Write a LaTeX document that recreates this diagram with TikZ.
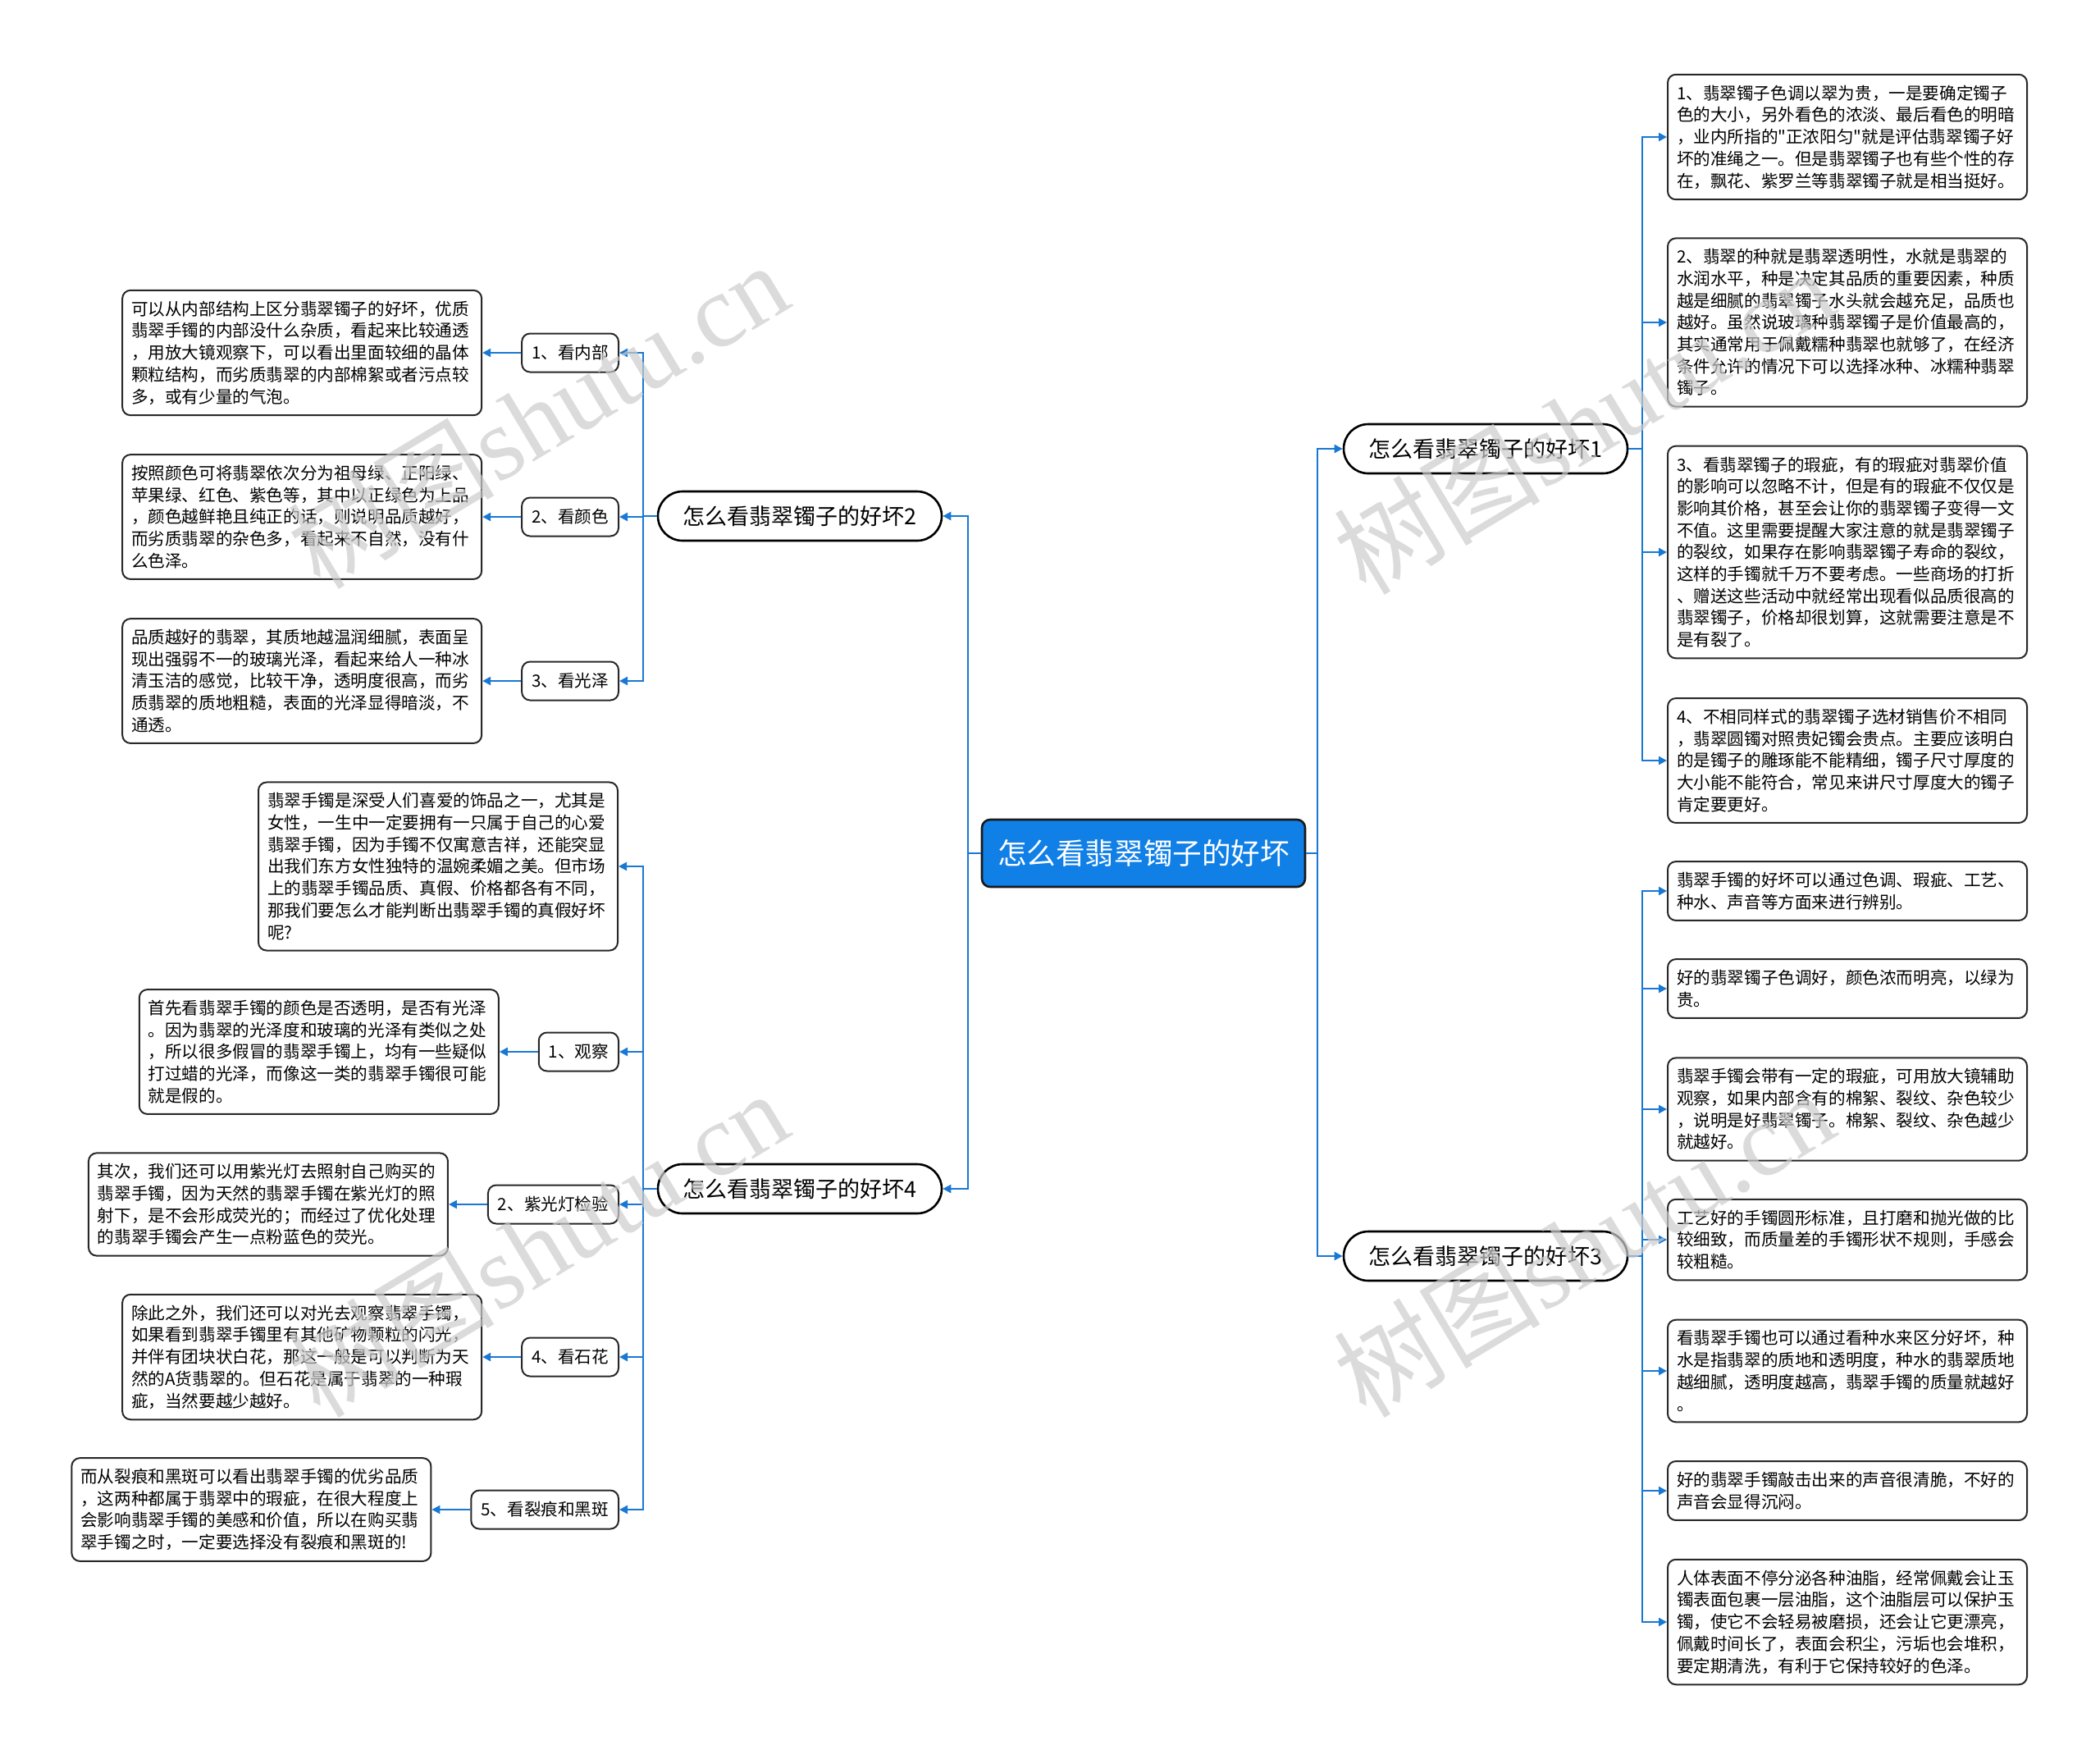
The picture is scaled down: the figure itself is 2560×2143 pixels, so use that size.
\documentclass[tikz,border=0pt]{standalone}
\usepackage{fontspec}
\setmainfont{Noto Sans CJK SC}[Ligatures=TeXOff]
\newfontfamily\wmlatin{Liberation Serif}
\usetikzlibrary{arrows.meta,positioning}
\definecolor{rootblue}{RGB}{16,127,230}
\definecolor{lineblue}{RGB}{24,120,212}
\definecolor{bord}{RGB}{40,40,40}
\begin{document}
\begin{tikzpicture}[x=0.5pt,y=-0.5pt,
  conn/.style={draw=lineblue,line width=1.2pt},
  arr/.style={conn,-{Triangle[length=5pt,width=5pt]}},
  txt/.style={font=\fontsize{10.3pt}{13.35pt}\selectfont},
  tbox/.style={txt,draw=bord,line width=1pt,rounded corners=5pt,fill=white,align=left,text width=208pt,inner xsep=5.5pt,inner ysep=6.5pt},
  lab/.style={txt,draw=bord,line width=1pt,rounded corners=5pt,fill=white,inner xsep=6pt,inner ysep=0pt,minimum height=23.5pt},
  branch/.style={draw=black,line width=1.3pt,rounded corners=15pt,fill=white,minimum height=30pt,minimum width=173pt,font=\fontsize{13.5pt}{16pt}\selectfont},
  root/.style={draw=black!90,line width=1.3pt,rounded corners=5pt,fill=rootblue,text=white,minimum height=41pt,minimum width=197pt,font=\fontsize{17.8pt}{20pt}\selectfont},
  wm/.style={rotate=31,text=black!20,opacity=0.7,font=\fontsize{63pt}{66pt}\selectfont,inner sep=0pt}
]
\useasboundingbox (0,0) rectangle (2560,2143);

% root and branches
\node[root] (root) at (1394,1040) {怎么看翡翠镯子的好坏};
\node[branch] (b1) at (1811,547) {怎么看翡翠镯子的好坏1};
\node[branch] (b3) at (1811,1531) {怎么看翡翠镯子的好坏3};
\node[branch] (b2) at (975,629) {怎么看翡翠镯子的好坏2};
\node[branch] (b4) at (975,1449) {怎么看翡翠镯子的好坏4};

\coordinate (jl) at (1180,1040);
\coordinate (jr) at (1606,1040);
\coordinate (j1) at (2002,547);
\coordinate (j3) at (2002,1531);
\coordinate (j2) at (784,629);
\coordinate (j4) at (784,1449);

% right, branch 1
\node[tbox,anchor=west] (r1a) at (2032,167) {1、翡翠镯子色调以翠为贵，一是要确定镯子\\色的大小，另外看色的浓淡、最后看色的明暗\\，业内所指的"正浓阳匀"就是评估翡翠镯子好\\坏的准绳之一。但是翡翠镯子也有些个性的存\\在，飘花、紫罗兰等翡翠镯子就是相当挺好。};
\node[tbox,anchor=west] (r1b) at (2032,393) {2、翡翠的种就是翡翠透明性，水就是翡翠的\\水润水平，种是决定其品质的重要因素，种质\\越是细腻的翡翠镯子水头就会越充足，品质也\\越好。虽然说玻璃种翡翠镯子是价值最高的，\\其实通常用于佩戴糯种翡翠也就够了，在经济\\条件允许的情况下可以选择冰种、冰糯种翡翠\\镯子。};
\node[tbox,anchor=west] (r1c) at (2032,673) {3、看翡翠镯子的瑕疵，有的瑕疵对翡翠价值\\的影响可以忽略不计，但是有的瑕疵不仅仅是\\影响其价格，甚至会让你的翡翠镯子变得一文\\不值。这里需要提醒大家注意的就是翡翠镯子\\的裂纹，如果存在影响翡翠镯子寿命的裂纹，\\这样的手镯就千万不要考虑。一些商场的打折\\、赠送这些活动中就经常出现看似品质很高的\\翡翠镯子，价格却很划算，这就需要注意是不\\是有裂了。};
\node[tbox,anchor=west] (r1d) at (2032,927) {4、不相同样式的翡翠镯子选材销售价不相同\\，翡翠圆镯对照贵妃镯会贵点。主要应该明白\\的是镯子的雕琢能不能精细，镯子尺寸厚度的\\大小能不能符合，常见来讲尺寸厚度大的镯子\\肯定要更好。};

% right, branch 3
\node[tbox,anchor=west] (r3a) at (2032,1086) {翡翠手镯的好坏可以通过色调、瑕疵、工艺、\\种水、声音等方面来进行辨别。};
\node[tbox,anchor=west] (r3b) at (2032,1205) {好的翡翠镯子色调好，颜色浓而明亮，以绿为\\贵。};
\node[tbox,anchor=west] (r3c) at (2032,1352) {翡翠手镯会带有一定的瑕疵，可用放大镜辅助\\观察，如果内部含有的棉絮、裂纹、杂色较少\\，说明是好翡翠镯子。棉絮、裂纹、杂色越少\\就越好。};
\node[tbox,anchor=west] (r3d) at (2032,1511) {工艺好的手镯圆形标准，且打磨和抛光做的比\\较细致，而质量差的手镯形状不规则，手感会\\较粗糙。};
\node[tbox,anchor=west] (r3e) at (2032,1671) {看翡翠手镯也可以通过看种水来区分好坏，种\\水是指翡翠的质地和透明度，种水的翡翠质地\\越细腻，透明度越高，翡翠手镯的质量就越好\\。};
\node[tbox,anchor=west] (r3f) at (2032,1817) {好的翡翠手镯敲击出来的声音很清脆，不好的\\声音会显得沉闷。};
\node[tbox,anchor=west] (r3g) at (2032,1977) {人体表面不停分泌各种油脂，经常佩戴会让玉\\镯表面包裹一层油脂，这个油脂层可以保护玉\\镯，使它不会轻易被磨损，还会让它更漂亮，\\佩戴时间长了，表面会积尘，污垢也会堆积，\\要定期清洗，有利于它保持较好的色泽。};

% left, branch 2
\node[lab,anchor=east] (l2a) at (755,430) {1、看内部};
\node[lab,anchor=east] (l2b) at (755,630) {2、看颜色};
\node[lab,anchor=east] (l2c) at (755,830) {3、看光泽};
\node[tbox,left=23.5pt of l2a] (t2a) {可以从内部结构上区分翡翠镯子的好坏，优质\\翡翠手镯的内部没什么杂质，看起来比较通透\\，用放大镜观察下，可以看出里面较细的晶体\\颗粒结构，而劣质翡翠的内部棉絮或者污点较\\多，或有少量的气泡。};
\node[tbox,left=23.5pt of l2b] (t2b) {按照颜色可将翡翠依次分为祖母绿、正阳绿、\\苹果绿、红色、紫色等，其中以正绿色为上品\\，颜色越鲜艳且纯正的话，则说明品质越好，\\而劣质翡翠的杂色多，看起来不自然，没有什\\么色泽。};
\node[tbox,left=23.5pt of l2c] (t2c) {品质越好的翡翠，其质地越温润细腻，表面呈\\现出强弱不一的玻璃光泽，看起来给人一种冰\\清玉洁的感觉，比较干净，透明度很高，而劣\\质翡翠的质地粗糙，表面的光泽显得暗淡，不\\通透。};

% left, branch 4
\node[tbox,anchor=east] (t4a) at (754,1056) {翡翠手镯是深受人们喜爱的饰品之一，尤其是\\女性，一生中一定要拥有一只属于自己的心爱\\翡翠手镯，因为手镯不仅寓意吉祥，还能突显\\出我们东方女性独特的温婉柔媚之美。但市场\\上的翡翠手镯品质、真假、价格都各有不同，\\那我们要怎么才能判断出翡翠手镯的真假好坏\\呢?};
\node[lab,anchor=east] (l4b) at (755,1282) {1、观察};
\node[lab,anchor=east] (l4c) at (755,1468) {2、紫光灯检验};
\node[lab,anchor=east] (l4d) at (755,1654) {4、看石花};
\node[lab,anchor=east] (l4e) at (755,1840) {5、看裂痕和黑斑};
\node[tbox,left=23.5pt of l4b] (t4b) {首先看翡翠手镯的颜色是否透明，是否有光泽\\。因为翡翠的光泽度和玻璃的光泽有类似之处\\，所以很多假冒的翡翠手镯上，均有一些疑似\\打过蜡的光泽，而像这一类的翡翠手镯很可能\\就是假的。};
\node[tbox,left=23.5pt of l4c] (t4c) {其次，我们还可以用紫光灯去照射自己购买的\\翡翠手镯，因为天然的翡翠手镯在紫光灯的照\\射下，是不会形成荧光的；而经过了优化处理\\的翡翠手镯会产生一点粉蓝色的荧光。};
\node[tbox,left=23.5pt of l4d] (t4d) {除此之外，我们还可以对光去观察翡翠手镯，\\如果看到翡翠手镯里有其他矿物颗粒的闪光，\\并伴有团块状白花，那这一般是可以判断为天\\然的A货翡翠的。但石花是属于翡翠的一种瑕\\疵，当然要越少越好。};
\node[tbox,left=23.5pt of l4e] (t4e) {而从裂痕和黑斑可以看出翡翠手镯的优劣品质\\，这两种都属于翡翠中的瑕疵，在很大程度上\\会影响翡翠手镯的美感和价值，所以在购买翡\\翠手镯之时，一定要选择没有裂痕和黑斑的!};

% connectors: root to branches
\draw[conn] (root.west) -- (jl);
\draw[arr] (jl) |- (b2.east);
\draw[arr] (jl) |- (b4.east);
\draw[conn] (root.east) -- (jr);
\draw[arr] (jr) |- (b1.west);
\draw[arr] (jr) |- (b3.west);

% branch 1
\draw[conn] (b1.east) -- (j1);
\foreach \n in {r1a,r1b,r1c,r1d} \draw[arr] (j1) |- (\n.west);
% branch 3
\draw[conn] (b3.east) -- (j3);
\foreach \n in {r3a,r3b,r3c,r3d,r3e,r3f,r3g} \draw[arr] (j3) |- (\n.west);
% branch 2
\draw[conn] (b2.west) -- (j2);
\foreach \n in {l2a,l2b,l2c} \draw[arr] (j2) |- (\n.east);
\draw[arr] (l2a.west) -- (t2a.east);
\draw[arr] (l2b.west) -- (t2b.east);
\draw[arr] (l2c.west) -- (t2c.east);
% branch 4
\draw[conn] (b4.west) -- (j4);
\foreach \n in {t4a,l4b,l4c,l4d,l4e} \draw[arr] (j4) |- (\n.east);
\draw[arr] (l4b.west) -- (t4b.east);
\draw[arr] (l4c.west) -- (t4c.east);
\draw[arr] (l4d.west) -- (t4d.east);
\draw[arr] (l4e.west) -- (t4e.east);

% watermarks
\node[wm] (w1) at (655,505) {树图{\wmlatin shutu.cn}};
\node[wm] (w2) at (655,1515) {树图{\wmlatin shutu.cn}};
\node[wm] (w3) at (1930,512) {树图{\wmlatin shutu.cn}};
\node[wm] (w4) at (1930,1515) {树图{\wmlatin shutu.cn}};
\end{tikzpicture}
\end{document}
